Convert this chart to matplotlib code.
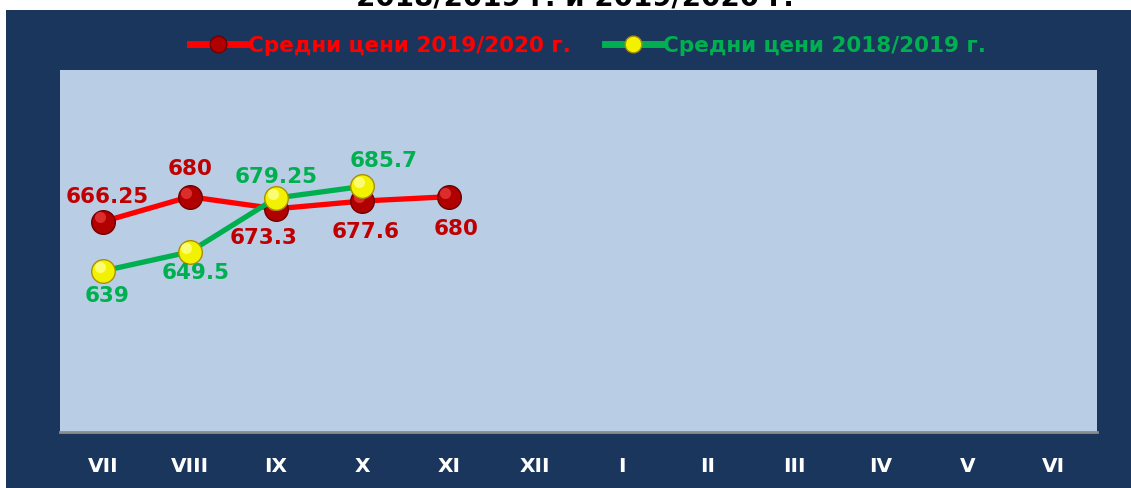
import matplotlib
matplotlib.use('Agg')
import matplotlib.pyplot as plt
from matplotlib.patches import Rectangle
from matplotlib.lines import Line2D
from matplotlib.transforms import offset_copy

months = ['VII', 'VIII', 'IX', 'X', 'XI', 'XII', 'I', 'II', 'III', 'IV', 'V', 'VI']
prices_2019_20 = [666.25, 680, 673.3, 677.6, 680]
prices_2018_19 = [639, 649.5, 679.25, 685.7]
label_2019_20 = 'Средни цени 2019/2020 г.'
label_2018_19 = 'Средни цени 2018/2019 г.'

NAVY = '#1B365D'
RED, RED_DARK, RED_TXT = '#FF0000', '#C00000', '#C00000'
GREEN, GREEN_TXT = '#00B050', '#00B050'

fig = plt.figure(figsize=(11.31, 4.88), dpi=100)
fig.patch.set_facecolor('white')
fig.patches.append(Rectangle((6/1131, 0), 1, (488-10)/488, transform=fig.transFigure,
                             facecolor=NAVY, edgecolor='none', zorder=-5))

# title is cut off at the top edge in the original
fig.text(575/1131, 1 - 5/488, '2018/2019 г. и 2019/2020 г.', ha='center', va='baseline',
         fontsize=20, fontweight='bold', color='black')

ax = fig.add_axes([60/1131, 1 - 432/488, (1097-60)/1131, (432-70)/488])
ax.set_zorder(1)
ax.set_facecolor('#B9CDE5')
ax.set_xlim(-0.5, len(months) - 0.5)
ax.set_ylim(550, 750)
ax.set_xticks(range(len(months)))
ax.set_xticklabels(months, color='white', fontsize=14.5, fontweight='bold')
ax.tick_params(axis='x', length=0, pad=18)
ax.set_yticks([])
for s in ['top', 'left', 'right']:
    ax.spines[s].set_visible(False)
ax.spines['bottom'].set_color('#8C8C8C')
ax.spines['bottom'].set_linewidth(2)

x_red = list(range(len(prices_2019_20)))
x_green = list(range(len(prices_2018_19)))
hl = offset_copy(ax.transData, fig=fig, x=-2.5, y=3, units='points')

# red series with "sphere" markers
ax.plot(x_red, prices_2019_20, color=RED, lw=3.8, solid_capstyle='round', zorder=3)
ax.plot(x_red, prices_2019_20, 'o', ms=17, mfc='#B00000', mec='#6E0000', mew=1, zorder=4)
ax.plot(x_red, prices_2019_20, 'o', ms=8, mfc='#F04040', mec='none', zorder=4,
        alpha=0.7, transform=hl)

# green series with yellow "sphere" markers
ax.plot(x_green, prices_2018_19, color=GREEN, lw=3.8, solid_capstyle='round', zorder=5)
ax.plot(x_green, prices_2018_19, 'o', ms=17, mfc='#F2F200', mec='#A89000', mew=1, zorder=6)
ax.plot(x_green, prices_2018_19, 'o', ms=8, mfc='#FFFF90', mec='none', zorder=6,
        alpha=0.8, transform=hl)

red_offsets = [(3, 18), (0, 20), (-9, -21), (2, -22), (5, -23)]
green_offsets = [(3, -18), (4, -15), (0, 15), (15, 18)]
for x, v, off in zip(x_red, prices_2019_20, red_offsets):
    ax.annotate(f'{v:g}', (x, v), xytext=off, textcoords='offset points', ha='center',
                va='center', fontsize=15.5, fontweight='bold', color=RED_TXT, zorder=7)
for x, v, off in zip(x_green, prices_2018_19, green_offsets):
    ax.annotate(f'{v:g}', (x, v), xytext=off, textcoords='offset points', ha='center',
                va='center', fontsize=15.5, fontweight='bold', color=GREEN_TXT, zorder=7)

handles = [Line2D([0], [0], color=RED, lw=5, marker='o', ms=12, mfc='#B00000', mec='#6E0000'),
           Line2D([0], [0], color=GREEN, lw=5, marker='o', ms=12, mfc='#F2F200', mec='#A89000')]
leg = fig.legend(handles, [label_2019_20, label_2018_19], loc='center',
                 bbox_to_anchor=(588/1131, 1 - 46/488), ncol=2, frameon=False,
                 handlelength=2.6, handletextpad=0.1, columnspacing=1.6,
                 prop={'weight': 'bold', 'size': 15.5})
for t, c in zip(leg.get_texts(), [RED, GREEN]):
    t.set_color(c)

fig.savefig('out.png', dpi=100)
